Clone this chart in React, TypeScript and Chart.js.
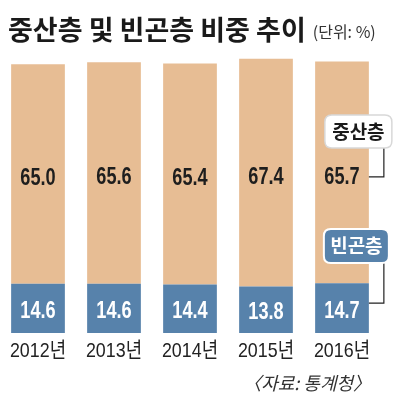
import React, { useEffect, useRef } from "react";
import { Chart, registerables } from "chart.js";

Chart.register(...registerables);

const categories = ["2012년", "2013년", "2014년", "2015년", "2016년"];
const poorValues = [14.6, 14.6, 14.4, 13.8, 14.7];
const middleValues = [65.0, 65.6, 65.4, 67.4, 65.7];
const titleText = "중산층 및 빈곤층 비중 추이";
const unitText = "(단위: %)";
const sourceText = "〈자료: 통계청〉";
const middleLabel = "중산층";
const poorLabel = "빈곤층";

const TAN = "#E7BD94";
const BLUE = "#5782AB";
const SANS = "'Liberation Sans', Arial, 'Noto Sans CJK KR', sans-serif";
const KR = "'Noto Sans CJK KR', 'Noto Sans', sans-serif";

function roundRect(ctx: CanvasRenderingContext2D, x: number, y: number, w: number, h: number, r: number) {
  ctx.beginPath();
  ctx.moveTo(x + r, y);
  ctx.lineTo(x + w - r, y);
  ctx.quadraticCurveTo(x + w, y, x + w, y + r);
  ctx.lineTo(x + w, y + h - r);
  ctx.quadraticCurveTo(x + w, y + h, x + w - r, y + h);
  ctx.lineTo(x + r, y + h);
  ctx.quadraticCurveTo(x, y + h, x, y + h - r);
  ctx.lineTo(x, y + r);
  ctx.quadraticCurveTo(x, y, x + r, y);
  ctx.closePath();
}

function scaledText(ctx: CanvasRenderingContext2D, text: string, x: number, y: number, sx: number) {
  ctx.save();
  ctx.translate(x, y);
  ctx.scale(sx, 1);
  ctx.fillText(text, 0, 0);
  ctx.restore();
}

const decorPlugin = {
  id: "decor",
  afterDraw(chart: any) {
    const ctx: CanvasRenderingContext2D = chart.ctx;
    ctx.save();
    // title
    ctx.textBaseline = "middle";
    ctx.textAlign = "left";
    ctx.fillStyle = "#1a1a1a";
    ctx.font = `bold 27px ${KR}`;
    ctx.fillText(titleText, 8, 30);
    const tw = ctx.measureText(titleText).width;
    ctx.fillStyle = "#333";
    ctx.font = `16px ${KR}`;
    ctx.fillText(unitText, 8 + tw + 7, 32);

    // category labels along the x scale
    const xs = chart.scales.x;
    ctx.textAlign = "center";
    ctx.fillStyle = "#222";
    ctx.font = `21px ${SANS}`;
    categories.forEach((c, i) => {
      scaledText(ctx, c, xs.getPixelForValue(i), 351, 0.85);
    });

    // value labels
    const poorMeta = chart.getDatasetMeta(0);
    const midMeta = chart.getDatasetMeta(1);
    ctx.font = `bold 23px ${SANS}`;
    poorMeta.data.forEach((el: any, i: number) => {
      const cy = (el.y + el.base) / 2 + 3;
      ctx.fillStyle = "#ffffff";
      scaledText(ctx, poorValues[i].toFixed(1), el.x, cy, 0.79);
    });
    midMeta.data.forEach((el: any, i: number) => {
      const cy = (el.y + el.base) / 2 + 5;
      ctx.fillStyle = "#1e1e1e";
      scaledText(ctx, middleValues[i].toFixed(1), el.x, cy, 0.79);
    });

    // legend callouts
    const lastMid = midMeta.data[midMeta.data.length - 1];
    const lastPoor = poorMeta.data[poorMeta.data.length - 1];
    const barRight = lastMid.x + lastMid.width / 2;
    const lineX = barRight + 15;
    const midY = lastMid.y + (lastMid.base - lastMid.y) * 0.52;
    const poorY = lastPoor.y + (lastPoor.base - lastPoor.y) * 0.4;

    ctx.strokeStyle = "#222";
    ctx.lineWidth = 1.2;
    ctx.beginPath();
    ctx.moveTo(barRight, midY);
    ctx.lineTo(lineX, midY);
    ctx.lineTo(lineX, 148);
    ctx.stroke();
    ctx.beginPath();
    ctx.moveTo(barRight, poorY);
    ctx.lineTo(lineX, poorY);
    ctx.lineTo(lineX, 263);
    ctx.stroke();

    // middle box
    roundRect(ctx, barRight - 44, 115, 67, 33, 7);
    ctx.fillStyle = "#ffffff";
    ctx.fill();
    ctx.strokeStyle = "#d8d8d8";
    ctx.lineWidth = 1.5;
    ctx.stroke();
    ctx.fillStyle = "#1a1a1a";
    ctx.font = `bold 19px ${KR}`;
    ctx.fillText(middleLabel, barRight - 44 + 33.5, 132);

    // poor box
    roundRect(ctx, barRight - 45, 229, 65, 34, 7);
    ctx.fillStyle = BLUE;
    ctx.fill();
    ctx.strokeStyle = "#ffffff";
    ctx.lineWidth = 2;
    ctx.stroke();
    ctx.fillStyle = "#ffffff";
    ctx.font = `bold 19px ${KR}`;
    ctx.fillText(poorLabel, barRight - 45 + 32.5, 246);

    // source
    ctx.textAlign = "right";
    ctx.fillStyle = "#333";
    ctx.font = `italic 18px ${KR}`;
    ctx.fillText(sourceText, 371, 383);
    ctx.restore();
  },
};

export default function App() {
  const ref = useRef<HTMLCanvasElement | null>(null);
  useEffect(() => {
    document.body.style.margin = "0";
    const canvas = ref.current;
    if (!canvas) return;
    const chart = new Chart(canvas, {
      type: "bar",
      data: {
        labels: categories,
        datasets: [
          {
            label: poorLabel,
            data: poorValues,
            backgroundColor: BLUE,
            borderWidth: 0,
            barPercentage: 0.707,
            categoryPercentage: 1,
          },
          {
            label: middleLabel,
            data: middleValues,
            backgroundColor: TAN,
            borderWidth: 0,
            barPercentage: 0.707,
            categoryPercentage: 1,
          },
        ],
      },
      options: {
        responsive: false,
        devicePixelRatio: 1,
        animation: false,
        layout: { padding: { left: -2, right: 15, top: 46, bottom: 64 } },
        plugins: {
          legend: { display: false },
          title: { display: false },
          tooltip: { enabled: false },
        },
        scales: {
          x: {
            stacked: true,
            display: false,
          },
          y: {
            stacked: true,
            display: false,
            min: 0,
            max: 85,
          },
        },
      },
      plugins: [decorPlugin],
    });
    return () => chart.destroy();
  }, []);
  return (
    <div style={{ position: "relative", width: 395, height: 397, background: "#fff" }}>
      <canvas ref={ref} width={395} height={397} style={{ display: "block" }} />
    </div>
  );
}
